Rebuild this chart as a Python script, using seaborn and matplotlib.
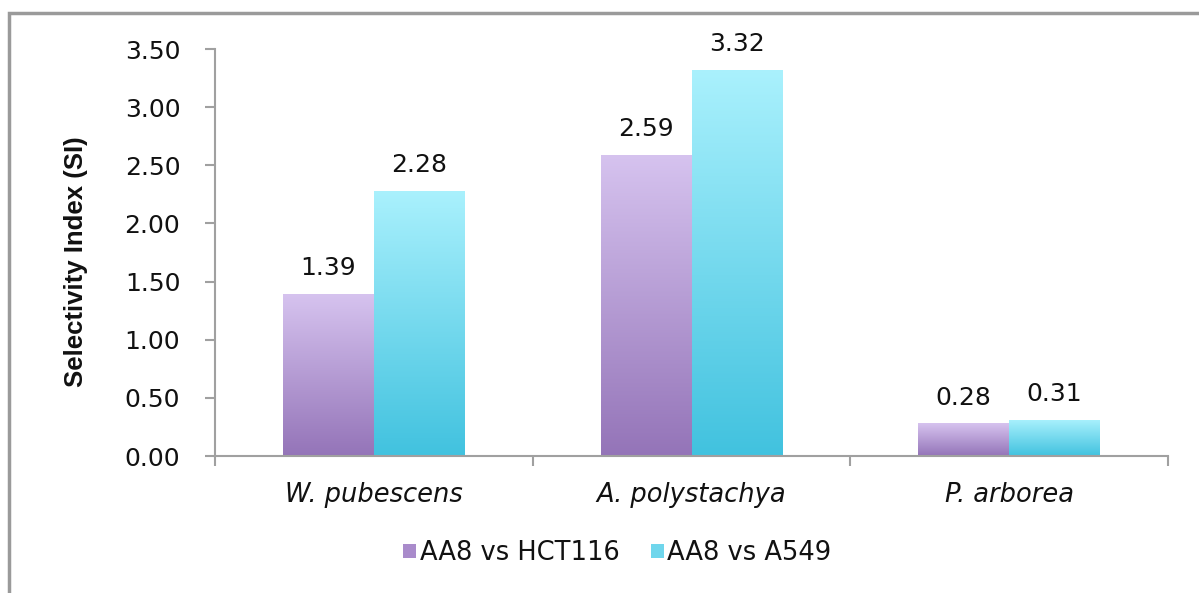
import numpy as np
import pandas as pd
import matplotlib
matplotlib.use("Agg")
import matplotlib.pyplot as plt
import seaborn as sns
from matplotlib.patches import Rectangle, Patch
from matplotlib.colors import LinearSegmentedColormap

categories = ["W. pubescens", "A. polystachya", "P. arborea"]
series_names = ["AA8 vs HCT116", "AA8 vs A549"]
hct116 = [1.39, 2.59, 0.28]
a549 = [2.28, 3.32, 0.31]
yticks = [0.0, 0.5, 1.0, 1.5, 2.0, 2.5, 3.0, 3.5]

df = pd.DataFrame({
    "species": categories * 2,
    "series": [series_names[0]] * 3 + [series_names[1]] * 3,
    "si": hct116 + a549,
})

sns.set_style("white")
plt.rcParams["font.family"] = ["DejaVu Sans"]

fig = plt.figure(figsize=(11.99, 5.93), dpi=100)
ax = fig.add_axes([215 / 1199, 137 / 593, 953 / 1199, 407 / 593])

palette = {series_names[0]: "#b49ad6", series_names[1]: "#7cdcef"}
sns.barplot(data=df, x="species", y="si", hue="series", order=categories,
            hue_order=series_names, palette=palette, width=0.572,
            ax=ax, legend=False, saturation=1, linewidth=0)

grads = [
    LinearSegmentedColormap.from_list("p", ["#9474b8", "#d6c3ef"]),
    LinearSegmentedColormap.from_list("c", ["#41c2df", "#aaf1fd"]),
]
grad = np.linspace(0, 1, 256).reshape(-1, 1)
for ci, cont in enumerate(ax.containers):
    for bar in cont:
        x0 = bar.get_x()
        w = bar.get_width()
        h = bar.get_height()
        im = ax.imshow(grad, cmap=grads[ci], origin="lower", aspect="auto",
                       extent=[x0, x0 + w, 0, h], zorder=2)
        im.set_clip_path(bar)
        ax.annotate(f"{h:.2f}", (x0 + w / 2, h), xytext=(0, 10),
                    textcoords="offset points", ha="center", va="bottom",
                    fontsize=18, color="#111111")

ax.set_xlim(-0.5, 2.5)
ax.set_ylim(0, 3.5)
ax.set_yticks(yticks)
ax.set_yticklabels([f"{v:.2f}" for v in yticks], fontsize=18, color="#111111")
ax.set_xticks([-0.5, 0.5, 1.5, 2.5])
ax.set_xticklabels([])
ax.tick_params(axis="both", direction="out", length=7, width=1.5,
               color="#a0a0a0", left=True, bottom=True)
ax.tick_params(axis="y", pad=18)
for i, c in enumerate(categories):
    ax.annotate(c, (i, 0), xytext=(0, -19), textcoords="offset points",
                ha="center", va="top", fontsize=18.5, style="italic",
                color="#111111")

for s in ["top", "right"]:
    ax.spines[s].set_visible(False)
for s in ["left", "bottom"]:
    ax.spines[s].set_color("#a0a0a0")
    ax.spines[s].set_linewidth(1.5)

ax.set_xlabel("")
ax.set_ylabel("Selectivity Index (SI)", fontsize=18.5, fontweight="bold",
              family=["Liberation Sans", "DejaVu Sans"], color="#111111")
ax.yaxis.set_label_coords((88 - 215) / 953, (456 - 262) / 407)

handles = [Patch(facecolor="#a98bcb", edgecolor="none"),
           Patch(facecolor="#6fd6ec", edgecolor="none")]
fig.legend(handles, series_names, loc="center", bbox_to_anchor=(0.515, 0.0675),
           ncol=2, frameon=False, fontsize=18.5, handlelength=0.5, handleheight=0.5,
           handletextpad=0.15, columnspacing=1.2, labelcolor="#111111")

fig.patches.append(Rectangle((9 / 1199, -0.05), 1.2, (593 - 13) / 593 + 0.05,
                             transform=fig.transFigure, fill=False,
                             edgecolor="#9a9a9a", linewidth=2.5, clip_on=False))

fig.savefig("out.png", dpi=100)
